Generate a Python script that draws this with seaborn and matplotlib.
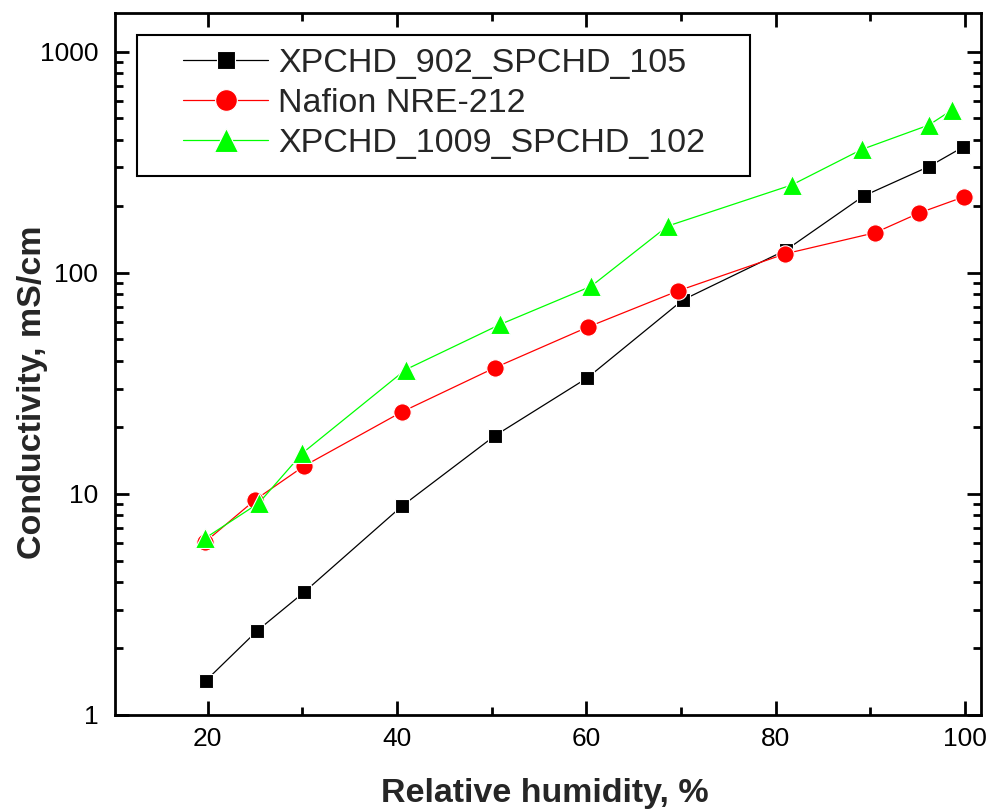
import matplotlib
matplotlib.use("Agg")
import matplotlib.pyplot as plt
from matplotlib.patches import Rectangle
import seaborn as sns
import pandas as pd
import numpy as np
from matplotlib.ticker import LogLocator, FixedLocator, NullFormatter, MultipleLocator

# ---- data ----
series_names = ["XPCHD_902_SPCHD_105", "Nafion NRE-212", "XPCHD_1009_SPCHD_102"]

rh_xpchd902 = [19.8, 25.2, 30.2, 40.5, 50.3, 60.1, 70.2, 81.1, 89.3, 96.2, 99.8]
cond_xpchd902 = [1.43, 2.4, 3.6, 8.8, 18.3, 33.5, 75.5, 127, 223, 303, 371]

rh_nafion = [19.7, 25.0, 30.2, 40.5, 50.3, 60.2, 69.7, 81.0, 90.5, 95.2, 99.9]
cond_nafion = [6.05, 9.4, 13.4, 23.5, 37.2, 57, 83, 122, 152, 187, 221]

rh_xpchd1009 = [19.7, 25.4, 30.0, 40.9, 50.9, 60.5, 68.6, 81.7, 89.1, 96.2, 98.6]
cond_xpchd1009 = [6.3, 9.1, 15.3, 36.5, 58.5, 87, 163, 250, 362, 467, 545]

x_ticks = [20, 40, 60, 80, 100]
y_ticks = [1, 10, 100, 1000]
y_tick_labels = ["1", "10", "100", "1000"]

colors = ["#000000", "#FF0000", "#00FF00"]
markers = ["s", "o", "^"]
msizes = [10.5, 12.5, 14]

sns.set_style("ticks")
plt.rcParams["font.family"] = ["Liberation Sans", "DejaVu Sans"]

fig = plt.figure(figsize=(9.89, 8.11), dpi=100)
ax = fig.add_axes([115/989, 1-715/811, (981-115)/989, (715-13)/811])

datasets = [(rh_xpchd902, cond_xpchd902), (rh_nafion, cond_nafion), (rh_xpchd1009, cond_xpchd1009)]
for name, (xs, ys), c, m, ms in zip(series_names, datasets, colors, markers, msizes):
    df = pd.DataFrame({"RH": xs, "cond": ys})
    sns.lineplot(data=df, x="RH", y="cond", ax=ax, color=c, marker=m,
                 markersize=ms, markeredgecolor="white", markeredgewidth=0.8,
                 linewidth=0.9, label=name, sort=False, estimator=None)

ax.set_yscale("log")
ax.set_xlim(10.2, 101.7)
ax.set_ylim(1, 1500)

ax.xaxis.set_major_locator(FixedLocator(x_ticks))
ax.xaxis.set_minor_locator(MultipleLocator(10))
ax.yaxis.set_major_locator(FixedLocator(y_ticks))
ax.set_yticklabels(y_tick_labels)
ax.yaxis.set_minor_locator(LogLocator(base=10, subs=np.arange(2, 10)))
ax.yaxis.set_minor_formatter(NullFormatter())

for s in ax.spines.values():
    s.set_linewidth(2.0)
    s.set_color("black")

ax.tick_params(which="both", direction="in", top=True, right=True, width=2.0, colors="black")
ax.tick_params(which="major", length=10)
ax.tick_params(which="minor", length=5.5)
ax.tick_params(axis="x", which="major", labelsize=19, pad=9)
ax.tick_params(axis="y", which="major", labelsize=19, pad=12)

ax.set_xlabel("Relative humidity, %", fontsize=24.5, fontweight="bold")
ax.set_ylabel("Conductivity, mS/cm", fontsize=24.5, fontweight="bold")
ax.xaxis.set_label_coords(0.4965, -0.090)
ax.yaxis.set_label_coords(-0.077, 0.46)

leg = ax.legend(loc="upper left", bbox_to_anchor=(0.0785, 0.950), borderaxespad=0,
                fontsize=24.5, frameon=False, markerscale=1.25,
                handlelength=2.5, handletextpad=0.3, labelspacing=0.26, borderpad=0)
ax.add_patch(Rectangle((0.0254, 0.7678), 0.7079, 0.2009, transform=ax.transAxes,
                       fill=False, edgecolor="black", linewidth=1.5, zorder=5))

fig.savefig("out.png", dpi=100)
